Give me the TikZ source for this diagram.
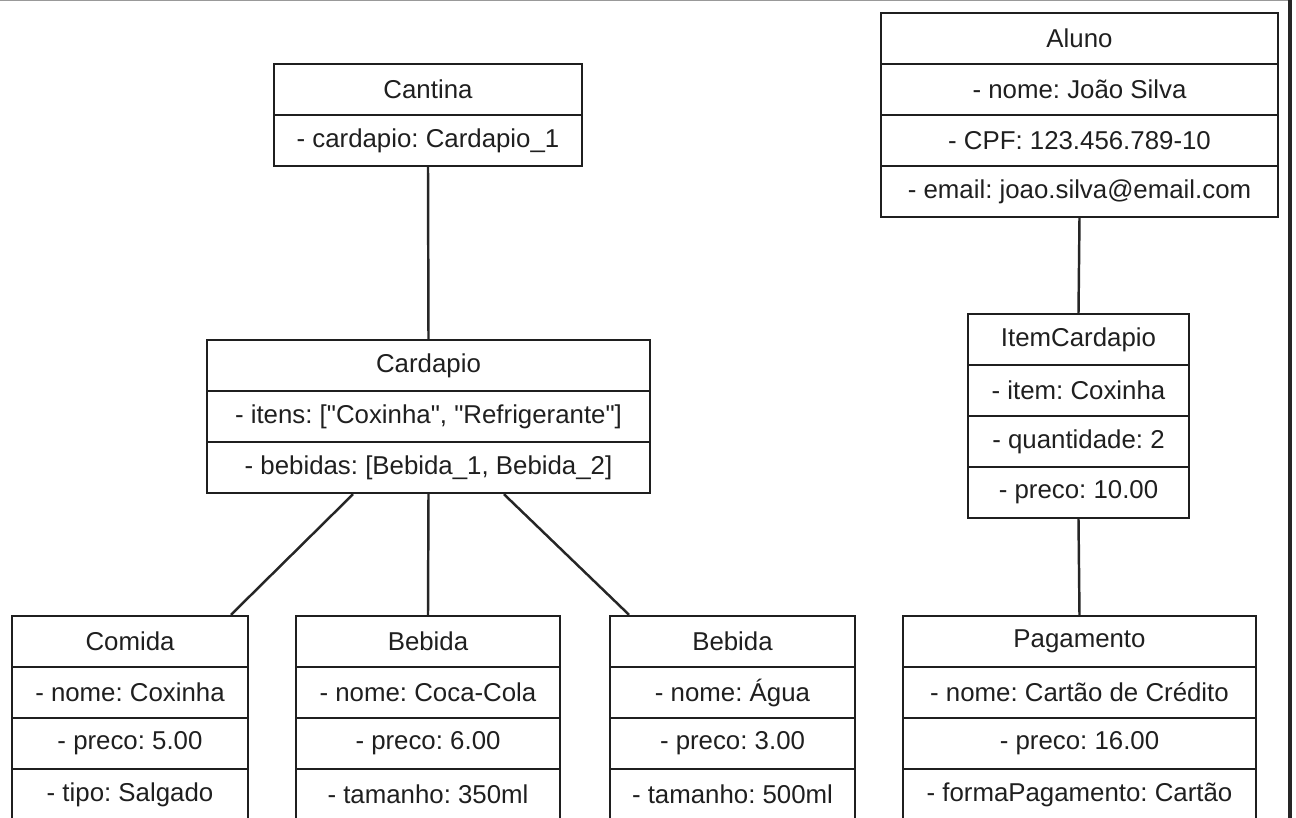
\documentclass[tikz,border=0pt]{standalone}
\usepackage{fontspec}
\setmainfont{Liberation Sans}
\usepackage{tikz}
\frenchspacing

\tikzset{
  row/.style={draw=black!88, line width=1.4pt, minimum width=#1, minimum height=1.02cm,
    inner sep=0pt, text=black!88, font=\fontsize{14.7pt}{17pt}\selectfont},
  link/.style={draw=black!85, line width=1.4pt}
}

\begin{document}
\begin{tikzpicture}[x=0.02cm,y=-0.02cm]
      \useasboundingbox (0,0) rectangle (1296,818);
      \draw[black!40, line width=1pt] (0,0.5) -- (1291,0.5);
      \draw[black!85, line width=2.4pt] (1290,0) -- (1290,818);
      % Cantina
      \node[row=6.16cm] (cantina) at (428,89.5) {Cantina};
      \node[row=6.16cm] (cantinaA) at (428,140.5) {- cardapio: Cardapio\_1};
      % Cardapio
      \node[row=8.86cm] (cardapio) at (428.5,365.5) {Cardapio};
      \node[row=8.86cm] (cardapioA) at (428.5,416.5) {- itens: [\textquotedbl Coxinha\textquotedbl, \textquotedbl Refrigerante\textquotedbl]};
      \node[row=8.86cm] (cardapioB) at (428.5,467.5) {- bebidas: [Bebida\_1, Bebida\_2]};
      % Aluno
      \node[row=7.94cm] (aluno) at (1079.5,38.5) {Aluno};
      \node[row=7.94cm] (alunoA) at (1079.5,89.5) {- nome: João Silva};
      \node[row=7.94cm] (alunoB) at (1079.5,140.5) {- CPF: 123.456.789-10};
      \node[row=7.94cm] (alunoC) at (1079.5,191.5) {- email: joao.silva@email.com};
      % ItemCardapio
      \node[row=4.42cm] (item) at (1078.5,339.5) {ItemCardapio};
      \node[row=4.42cm] (itemA) at (1078.5,390.5) {- item: Coxinha};
      \node[row=4.42cm] (itemB) at (1078.5,441.5) {- quantidade: 2};
      \node[row=4.42cm] (itemC) at (1078.5,492.5) {- preco: 10.00};
      % Comida
      \node[row=4.72cm] (comida) at (130,641.5) {Comida};
      \node[row=4.72cm] (comidaA) at (130,692.5) {- nome: Coxinha};
      \node[row=4.72cm] (comidaB) at (130,743.5) {- preco: 5.00};
      \node[row=4.72cm] (comidaC) at (130,794.5) {- tipo: Salgado};
      % Bebida (Coca-Cola)
      \node[row=5.28cm] (coca) at (428,641.5) {Bebida};
      \node[row=5.28cm] (cocaA) at (428,692.5) {- nome: Coca-Cola};
      \node[row=5.28cm] (cocaB) at (428,743.5) {- preco: 6.00};
      \node[row=5.28cm] (cocaC) at (428,794.5) {- tamanho: 350ml};
      % Bebida (Agua)
      \node[row=4.9cm] (agua) at (732.5,641.5) {Bebida};
      \node[row=4.9cm] (aguaA) at (732.5,692.5) {- nome: Água};
      \node[row=4.9cm] (aguaB) at (732.5,743.5) {- preco: 3.00};
      \node[row=4.9cm] (aguaC) at (732.5,794.5) {- tamanho: 500ml};
      % Pagamento
      \node[row=7.06cm] (pagamento) at (1079.5,641.5) {Pagamento};
      \node[row=7.06cm] (pagamentoA) at (1079.5,692.5) {- nome: Cartão de Crédito};
      \node[row=7.06cm] (pagamentoB) at (1079.5,743.5) {- preco: 16.00};
      \node[row=7.06cm] (pagamentoC) at (1079.5,794.5) {- formaPagamento: Cartão};
      % ligacoes
      \draw[link] (cantinaA.south) -- (cardapio.north);
      \draw[link] ([xshift=-1.51cm]cardapioB.south) -- ([xshift=2.02cm]comida.north);
      \draw[link] (cardapioB.south) -- (coca.north);
      \draw[link] ([xshift=1.51cm]cardapioB.south) -- ([xshift=-2.07cm]agua.north);
      \draw[link] (alunoC.south) -- (item.north);
      \draw[link] (itemC.south) -- (pagamento.north);
    \end{tikzpicture}
\end{document}
